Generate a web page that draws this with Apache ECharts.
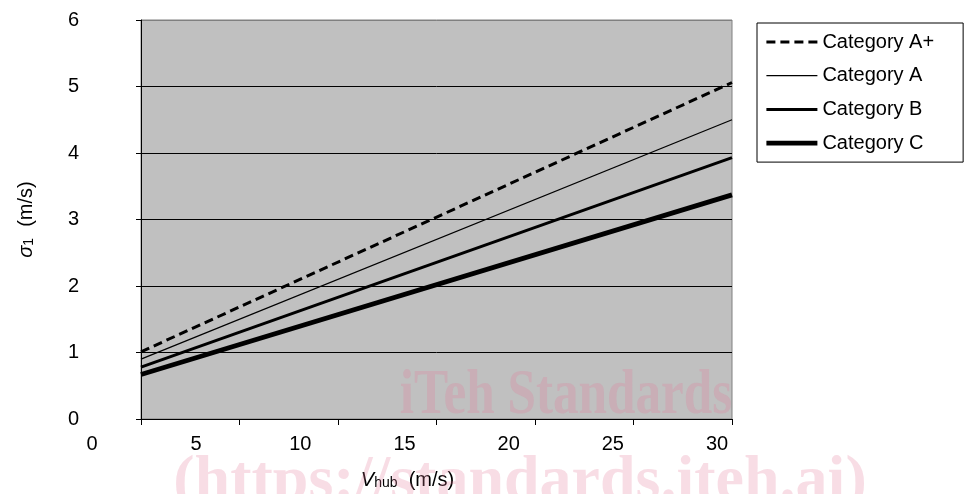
<!DOCTYPE html>
<html>
<head>
<meta charset="utf-8">
<script src="https://cdn.jsdelivr.net/npm/echarts@6/dist/echarts.min.js"></script>
<style>
  html, body { margin: 0; padding: 0; background: #fff; }
  #chart { width: 965px; height: 494px; }
</style>
</head>
<body>
<div id="chart"></div>
<script>
  // hub wind speed (m/s) at the two ends of the plotted range
  const speeds = [0, 30];
  // sigma_1 (m/s) read at those speeds
  const catAPlus = [1.01, 5.06];
  const catA = [0.90, 4.50];
  const catB = [0.78, 3.93];
  const catC = [0.67, 3.37];
  const seriesNames = ["Category A+", "Category A", "Category B", "Category C"];
  const xTicks = [0, 5, 10, 15, 20, 25, 30];
  const yTicks = [0, 1, 2, 3, 4, 5, 6];

  const font = "Liberation Sans, Arial, sans-serif";
  const chart = echarts.init(document.getElementById("chart"));

  function pairs(values) {
    return speeds.map((v, i) => [v, values[i]]);
  }

  const styles = [
    { width: 3, type: [9, 5] },
    { width: 1.3, type: "solid" },
    { width: 3, type: "solid" },
    { width: 4.8, type: "solid" }
  ];
  const data = [catAPlus, catA, catB, catC];

  function nameRich(size) {
    const base = { color: "#000", fontFamily: font, lineHeight: 24, verticalAlign: "bottom" };
    return {
      it: Object.assign({}, base, { fontSize: size, fontStyle: "italic" }),
      sub: Object.assign({}, base, { fontSize: 14, padding: [10, 0, 0, 0] }),
      t: Object.assign({}, base, { fontSize: size })
    };
  }

  // grid lines are black, the top one is the grey plot-area border
  const gridColors = yTicks.map((v, i) => i === yTicks.length - 1 ? "#808080" : "#000");

  chart.setOption({
    animation: false,
    backgroundColor: "#fff",
    textStyle: { fontFamily: font },
    grid: [
      { left: 141, right: 233, top: 20, bottom: 75, show: true, backgroundColor: "#c0c0c0",
        borderColor: "#808080", borderWidth: 1, outerBoundsMode: "none" },
      // label-only grid: the tick labels of the original sit on a wider spacing than the ticks
      { left: 92, width: 625, top: 20, bottom: 75, outerBoundsMode: "none" }
    ],
    legend: {
      orient: "vertical",
      left: 757, top: 23,
      padding: [9, 29, 9, 7],
      itemWidth: 51, itemHeight: 20, itemGap: 13.7,
      borderColor: "#000", borderWidth: 1,
      backgroundColor: "#fff",
      itemStyle: { opacity: 0 },
      textStyle: { fontSize: 20, color: "#000", fontFamily: font },
      data: seriesNames.map((name, i) => ({
        name,
        lineStyle: { width: styles[i].width, type: styles[i].type, color: "#000" }
      }))
    },
    xAxis: [
      {
        type: "value", gridIndex: 0, min: xTicks[0], max: xTicks[xTicks.length - 1], interval: 5,
        axisLine: { lineStyle: { color: "#000", width: 1 } },
        axisTick: { show: true, length: 6, lineStyle: { color: "#000" } },
        axisLabel: { show: false },
        splitLine: { show: false },
        name: "{it|V}{sub|hub}{t|  (m/s)}",
        nameLocation: "middle", nameGap: 47,
        nameTextStyle: { padding: [0, 58, 0, 0], rich: nameRich(20) }
      },
      {
        type: "value", gridIndex: 1, min: xTicks[0], max: xTicks[xTicks.length - 1], interval: 5,
        axisLine: { show: false }, axisTick: { show: false }, splitLine: { show: false },
        axisLabel: { fontSize: 20, color: "#000", margin: 15, fontFamily: font }
      }
    ],
    yAxis: [
      {
        type: "value", gridIndex: 0, min: yTicks[0], max: yTicks[yTicks.length - 1], interval: 1,
        axisLine: { show: true, lineStyle: { color: "#000", width: 1 } },
        axisTick: { show: true, length: 5, lineStyle: { color: "#000" } },
        axisLabel: { fontSize: 20, color: "#000", margin: 62, fontFamily: font },
        splitLine: { show: true, lineStyle: { color: gridColors, width: 1 } },
        name: "{it|σ}{sub|1}{t|  (m/s)}",
        nameLocation: "middle", nameGap: 105,
        nameTextStyle: { rich: nameRich(20) }
      },
      { type: "value", gridIndex: 1, show: false, min: 0, max: 6 }
    ],
    series: seriesNames.map((name, i) => ({
      name,
      type: "line",
      xAxisIndex: 0, yAxisIndex: 0,
      data: pairs(data[i]),
      symbol: "none",
      lineStyle: { color: "#000", width: styles[i].width, type: styles[i].type },
      itemStyle: { color: "#000" },
      z: 3
    })),
    graphic: [
      {
        type: "text", x: 566, y: 428, scaleX: 0.8, z: 100, silent: true,
        style: { text: "iTeh Standards", font: "bold 64px 'Liberation Serif', 'DejaVu Serif', serif",
          fill: "rgba(226,120,150,0.25)", align: "center", verticalAlign: "bottom" }
      },
      {
        type: "text", x: 520, y: 514, z: 100, silent: true,
        style: { text: "(https://standards.iteh.ai)", font: "bold 64px 'Liberation Serif', 'DejaVu Serif', serif",
          fill: "rgba(226,120,150,0.25)", align: "center", verticalAlign: "bottom" }
      }
    ]
  });
</script>
</body>
</html>
